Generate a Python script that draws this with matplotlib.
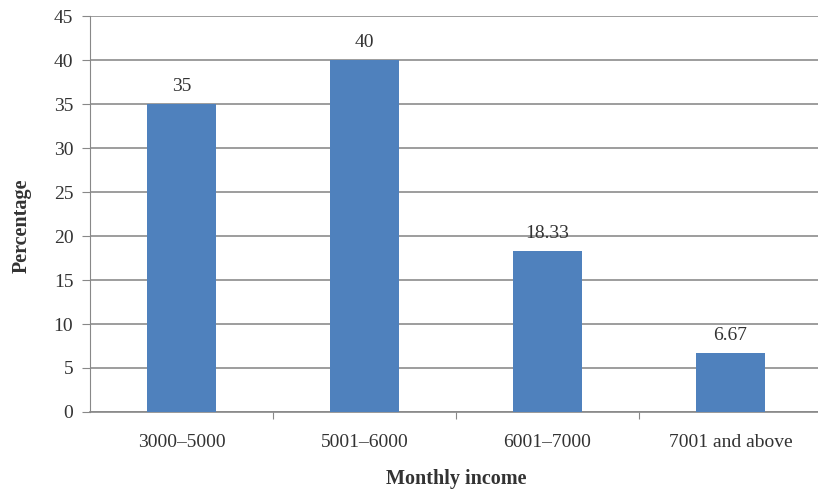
import numpy as np
import matplotlib.pyplot as plt

categories = ['3000–5000', '5001–6000', '6001–7000', '7001 and above']
values = [35, 40, 18.33, 6.67]
labels = ['35', '40', '18.33', '6.67']

plt.rcParams['font.family'] = ['Liberation Serif', 'DejaVu Serif']

fig = plt.figure(figsize=(8.18, 4.91), dpi=100)
ax = fig.add_axes([0.110, 0.161, 0.895, 0.806])

x = np.arange(len(categories))
bars = ax.bar(x, values, width=0.38, color='#4F81BD', zorder=3)
for xi, v, lab in zip(x, values, labels):
    ax.text(xi, v + 1.0, lab, ha='center', va='bottom', fontsize=14, color='#333333')

ax.set_ylim(0, 45)
ax.set_yticks(np.arange(0, 46, 5))
ax.set_xlim(-0.5, 3.5)
ax.set_xticks([0.5, 1.5, 2.5])
ax.set_xticklabels([])
ax.set_xticks(x, minor=True)
ax.set_xticklabels(categories, minor=True)
ax.tick_params(axis='x', which='minor', length=0, pad=16, labelsize=14, labelcolor='#333333')
ax.tick_params(axis='x', which='major', length=5, color='#888888')
ax.tick_params(axis='y', length=6, color='#888888', labelsize=14, labelcolor='#333333', pad=6)

ax.grid(axis='y', color='#8c8c8c', linewidth=1.2, zorder=0)
for s in ['top', 'right']:
    ax.spines[s].set_visible(False)
ax.spines['left'].set_color('#888888')
ax.spines['bottom'].set_color('#888888')
ax.spines['bottom'].set_linewidth(1.2)

ax.set_ylabel('Percentage', fontsize=14.5, fontweight='bold', color='#333333')
ax.yaxis.set_label_coords(-0.08, 0.47)
ax.set_xlabel('Monthly income', fontsize=14.5, fontweight='bold', color='#333333')
ax.xaxis.set_label_coords(0.5, -0.143)

fig.savefig('out.png', dpi=100)
